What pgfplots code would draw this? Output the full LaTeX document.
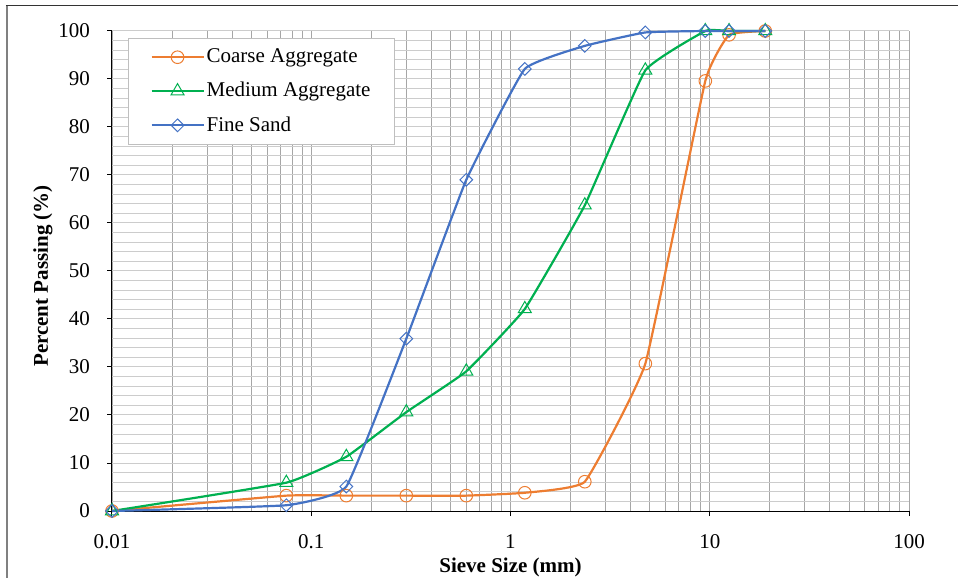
\documentclass[border=0pt]{standalone}
\usepackage{fontspec}
\setmainfont{Liberation Serif}
\usepackage{pgfplots}
\pgfplotsset{compat=1.18}
\definecolor{cOr}{HTML}{ED7D31}
\definecolor{cGr}{HTML}{00B050}
\definecolor{cBl}{HTML}{4472C4}
\definecolor{vgrid}{HTML}{A6A6A6}
\definecolor{hgrid}{HTML}{CCCCCC}
\begin{document}
\fontsize{21}{25}\selectfont
\begin{tikzpicture}
\useasboundingbox (-112pt,-67pt) rectangle (846pt,511pt);
\draw[color=black!50, line width=2pt] (-105pt,-70pt) -- (-105pt,505pt);
\draw[color=black!80, line width=1pt] (-106pt,505pt) -- (850pt,505pt);
\begin{axis}[
  at={(0pt,0pt)}, anchor=south west,
  scale only axis, width=797pt, height=480pt,
  xmode=log, xmin=0.01, xmax=100, ymin=0, ymax=100,
  xtick={0.01,0.1,1,10,100}, xticklabels={0.01,0.1,1,10,100},
  minor xtick={0.02,0.03,0.04,0.05,0.06,0.07,0.08,0.09,0.2,0.3,0.4,0.5,0.6,0.7,0.8,0.9,2,3,4,5,6,7,8,9,20,30,40,50,60,70,80,90},
  ytick={0,10,...,100}, yticklabels={0,10,20,30,40,50,60,70,80,90,100},
  minor ytick={2,4,...,98},
  grid=both,
  major x grid style={vgrid, line width=0.8pt},
  minor x grid style={vgrid, line width=0.8pt},
  major y grid style={hgrid, line width=1pt},
  minor y grid style={hgrid, line width=1pt},
  axis x line*=bottom, axis y line*=left,
  axis line style={black, line width=1pt, -},
  tick align=outside, major tick length=5pt, minor tick length=0pt,
  tick style={black, line width=1pt},
  xticklabel style={anchor=base, yshift=-32pt},
  yticklabel style={anchor=east, inner sep=0pt, xshift=-17pt},
  xlabel={\textbf{Sieve Size (mm)}},
  xlabel style={at={(axis description cs:0.5,0)}, anchor=center, yshift=-56pt},
  clip=false,
  legend image code/.code={\draw[#1, mark repeat=2, mark phase=2] plot coordinates {(0pt,0pt) (26pt,0pt) (52pt,0pt)};},
  legend style={at={(axis description cs:0.02,0.985)}, anchor=north west, draw=black!25, line width=1pt, fill=white, font=\fontsize{21}{25}\selectfont, row sep=12.5pt, inner xsep=22pt, inner ysep=8pt},
  legend cell align=left,
]
\addplot[cOr, line width=2.2pt, smooth, tension=0.2, mark=o, mark size=6.3pt, mark options={line width=1pt, solid}] coordinates {
(0.01,0) (0.075,3.2) (0.15,3.2) (0.3,3.2) (0.6,3.2) (1.18,3.8) (2.36,6.1) (4.75,30.7) (9.5,89.6) (12.5,99.2) (19,100)};
\addlegendentry{Coarse Aggregate}
\addplot[cGr, line width=2.2pt, smooth, tension=0.2, mark=triangle, mark size=7.5pt, mark options={line width=1pt, solid}] coordinates {
(0.01,0) (0.075,5.9) (0.15,11.3) (0.3,20.6) (0.6,29.1) (1.18,42.1) (2.36,63.7) (4.75,91.8) (9.5,100) (12.5,100) (19,100)};
\addlegendentry{Medium Aggregate}
\addplot[cBl, line width=2.2pt, smooth, tension=0.2, mark=square, mark size=4.5pt, mark options={line width=1pt, solid, rotate=45}] coordinates {
(0.01,0) (0.075,1.2) (0.15,5.1) (0.3,35.9) (0.6,69.0) (1.18,92.1) (2.36,96.9) (4.75,99.7) (9.5,100) (12.5,100) (19,100)};
\addlegendentry{Fine Sand}
\end{axis}
\node[rotate=90, font=\bfseries, anchor=center] at (-69pt,235pt) {Percent Passing (\%)};
\end{tikzpicture}
\end{document}
